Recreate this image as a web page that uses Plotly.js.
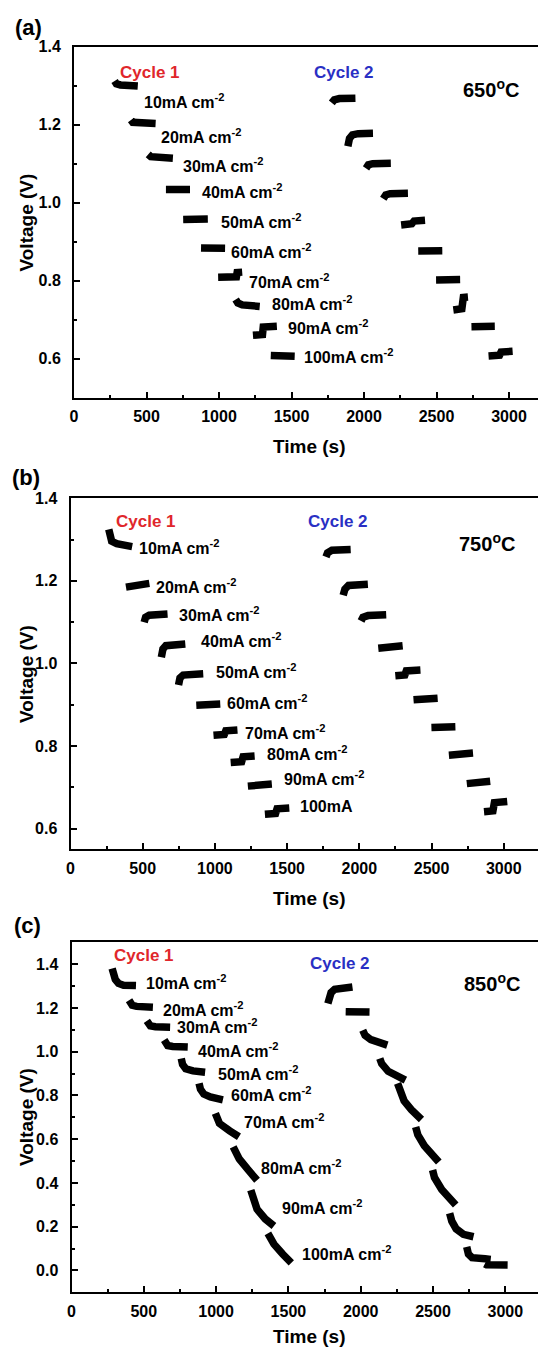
<!DOCTYPE html>
<html>
<head>
<meta charset="utf-8">
<script src="https://cdn.plot.ly/plotly-3.0.1.min.js"></script>
<style>html,body{margin:0;padding:0;background:#fff;}#chart{width:538px;height:1350px;}</style>
</head>
<body>
<div id="chart"></div>
<script>
// ---------------- DATA ----------------
// Panel (a) 650 °C
const a_cycle1_time = [280,292,320,440,null,393,405,563,null,512,530,682,null,634,800,null,753,923,null,876,1042,null,994,1120,1125,1160,null,1115,1130,1160,1281,null,1234,1300,1305,1399,null,1357,1522];
const a_cycle1_volt = [1.312,1.305,1.302,1.299,null,1.212,1.206,1.203,null,1.124,1.118,1.114,null,1.034,1.034,null,0.957,0.958,null,0.884,0.883,null,0.809,0.810,0.821,0.822,null,0.752,0.743,0.738,0.734,null,0.660,0.662,0.681,0.683,null,0.608,0.606];
const a_cycle2_time = [1778,1795,1830,1941,null,1889,1900,1920,1960,2062,null,2014,2030,2060,2185,null,2133,2150,2180,2303,null,2256,2330,2345,2421,null,2374,2540,null,2497,2663,null,2616,2675,2685,2717,null,2741,2902,null,2859,2935,2945,3025];
const a_cycle2_volt = [1.256,1.264,1.267,1.268,null,1.145,1.165,1.174,1.177,1.178,null,1.088,1.097,1.100,1.101,null,1.010,1.020,1.023,1.024,null,0.943,0.946,0.953,0.955,null,0.876,0.877,null,0.802,0.803,null,0.725,0.728,0.757,0.758,null,0.682,0.683,null,0.607,0.609,0.617,0.619];

// Panel (b) 750 °C
const b_cycle1_time = [265,272,285,320,427,null,384,546,null,510,520,545,672,null,629,640,660,795,null,748,758,780,919,null,871,1037,null,990,1065,1075,1156,null,1109,1185,1195,1275,null,1228,1394,null,1346,1420,1430,1515];
const b_cycle1_volt = [1.325,1.308,1.296,1.290,1.283,null,1.185,1.194,null,1.100,1.112,1.117,1.120,null,1.015,1.035,1.043,1.047,null,0.948,0.965,0.972,0.975,null,0.899,0.902,null,0.826,0.828,0.837,0.839,null,0.760,0.762,0.774,0.776,null,0.703,0.708,null,0.635,0.637,0.648,0.650];
const b_cycle2_time = [1769,1780,1810,1940,null,1888,1900,1925,2059,null,2012,2025,2060,2186,null,2131,2300,null,2249,2315,2325,2423,null,2375,2542,null,2499,2665,null,2620,2787,null,2744,2906,null,2863,2925,2935,3024];
const b_cycle2_volt = [1.258,1.268,1.274,1.276,null,1.165,1.180,1.189,1.192,null,1.103,1.112,1.116,1.118,null,1.037,1.043,null,0.970,0.972,0.982,0.984,null,0.912,0.916,null,0.845,0.847,null,0.778,0.783,null,0.709,0.715,null,0.641,0.643,0.663,0.666];

// Panel (c) 850 °C
const c_cycle1_time = [281,290,303,325,360,446,null,398,405,420,450,563,null,521,528,545,580,682,null,641,648,665,700,804,null,759,768,790,840,924,null,882,892,915,960,1047,null,995,1010,1023,1094,1158,null,1118,1135,1160,1215,1283,null,1240,1255,1283,1340,1400,null,1358,1372,1400,1460,1520];
const c_cycle1_volt = [1.380,1.355,1.330,1.312,1.304,1.302,null,1.235,1.222,1.212,1.207,1.203,null,1.141,1.128,1.118,1.114,1.112,null,1.053,1.038,1.028,1.024,1.021,null,0.969,0.942,0.922,0.912,0.906,null,0.855,0.828,0.806,0.793,0.780,null,0.718,0.690,0.672,0.638,0.611,null,0.565,0.535,0.510,0.465,0.412,null,0.367,0.330,0.280,0.235,0.203,null,0.169,0.145,0.120,0.075,0.035];
const c_cycle2_time = [1773,1780,1795,1820,1870,1943,null,1896,2061,null,2014,2030,2070,2130,2184,null,2132,2145,2190,2250,2309,null,2255,2270,2300,2350,2420,null,2380,2395,2440,2490,2540,null,2497,2510,2560,2610,2657,null,2615,2630,2660,2710,2780,null,2733,2745,2770,2830,2850,2860,2899,null,2858,2870,3016];
const c_cycle2_volt = [1.220,1.245,1.270,1.285,1.292,1.296,null,1.183,1.181,null,1.098,1.075,1.055,1.040,1.030,null,0.969,0.945,0.910,0.885,0.870,null,0.855,0.820,0.775,0.735,0.690,null,0.656,0.620,0.570,0.530,0.496,null,0.459,0.425,0.370,0.330,0.299,null,0.261,0.225,0.190,0.165,0.154,null,0.108,0.075,0.058,0.050,0.048,0.053,0.050,null,0.030,0.026,0.025];

// Text
const currentLabels = ['10mA cm<sup>-2</sup>','20mA cm<sup>-2</sup>','30mA cm<sup>-2</sup>','40mA cm<sup>-2</sup>','50mA cm<sup>-2</sup>','60mA cm<sup>-2</sup>','70mA cm<sup>-2</sup>','80mA cm<sup>-2</sup>','90mA cm<sup>-2</sup>','100mA cm<sup>-2</sup>'];
const currentLabelsB = ['10mA cm<sup>-2</sup>','20mA cm<sup>-2</sup>','30mA cm<sup>-2</sup>','40mA cm<sup>-2</sup>','50mA cm<sup>-2</sup>','60mA cm<sup>-2</sup>','70mA cm<sup>-2</sup>','80mA cm<sup>-2</sup>','90mA cm<sup>-2</sup>','100mA'];
const temperatures = ['650<sup>o</sup>C','750<sup>o</sup>C','850<sup>o</sup>C'];
const panelLetters = ['(a)','(b)','(c)'];
const cycleNames = ['Cycle 1','Cycle 2'];
const xTitle = 'Time (s)';
const yTitle = 'Voltage (V)';

// ---------------- STYLE / LAYOUT ----------------
const FONT = 'Arial, "Liberation Sans", Helvetica, sans-serif';
const RED = '#e0262b';
const BLUE = '#2a2fc4';

function trace(x, y, xa, ya) {
  return {x: x, y: y, xaxis: xa, yaxis: ya, type: 'scatter', mode: 'lines',
          line: {color: '#000', width: 7.5}, connectgaps: false, hoverinfo: 'skip', showlegend: false};
}
const data = [
  trace(a_cycle1_time, a_cycle1_volt, 'x', 'y'),
  trace(a_cycle2_time, a_cycle2_volt, 'x', 'y'),
  trace(b_cycle1_time, b_cycle1_volt, 'x2', 'y2'),
  trace(b_cycle2_time, b_cycle2_volt, 'x2', 'y2'),
  trace(c_cycle1_time, c_cycle1_volt, 'x3', 'y3'),
  trace(c_cycle2_time, c_cycle2_volt, 'x3', 'y3')
];

const tickFont = {family: FONT, size: 16, color: '#000', weight: 'bold'};
function xAxis(domain, range, anchor) {
  return {domain: domain, range: range, anchor: anchor, showline: true, linecolor: '#000', linewidth: 2,
    mirror: true, ticks: 'inside', ticklen: 6, tickwidth: 2, tickcolor: '#000',
    tickmode: 'linear', tick0: 0, dtick: 500,
    minor: {dtick: 250, ticks: 'inside', ticklen: 3, tickwidth: 2, tickcolor: '#000', showgrid: false},
    showgrid: false, zeroline: false, tickfont: tickFont, ticklabelstandoff: 3, fixedrange: true};
}
function yAxis(domain, range, anchor) {
  return {domain: domain, range: range, anchor: anchor, showline: true, linecolor: '#000', linewidth: 2,
    mirror: false, ticks: 'inside', ticklen: 6, tickwidth: 2, tickcolor: '#000',
    tickmode: 'linear', tick0: 0, dtick: 0.2, tickformat: '.1f',
    minor: {dtick: 0.1, ticks: 'inside', ticklen: 3, tickwidth: 2, tickcolor: '#000', showgrid: false},
    showgrid: false, zeroline: false, tickfont: tickFont, ticklabelstandoff: 8, fixedrange: true};
}

const W = 538, H = 1350;
const px = v => v / W;
const py = v => 1 - v / H;

const annotations = [];
function ann(text, x, y, xref, yref, opts) {
  annotations.push(Object.assign({text: text, x: x, y: y, xref: xref, yref: yref, showarrow: false,
    font: {family: FONT, size: 16, color: '#000', weight: 'bold'}, xanchor: 'left', yanchor: 'middle'}, opts || {}));
}

// label positions (time, voltage) for each panel
const posA = [[469,1.262],[588,1.170],[741,1.096],[872,1.030],[1001,0.952],[1072,0.876],[1191,0.800],[1352,0.743],[1463,0.681],[1570,0.607]];
const posB = [[463,1.282],[581,1.187],[736,1.120],[890,1.056],[997,0.981],[1073,0.907],[1192,0.835],[1349,0.783],[1467,0.722],[1572,0.654]];
const posC = [[500,1.319],[618,1.197],[717,1.118],[863,1.007],[1000,0.904],[1089,0.806],[1177,0.683],[1295,0.474],[1443,0.291],[1578,0.078]];
posA.forEach((p, i) => ann(currentLabels[i], p[0], p[1], 'x', 'y'));
posB.forEach((p, i) => ann(currentLabelsB[i], p[0], p[1], 'x2', 'y2'));
posC.forEach((p, i) => ann(currentLabels[i], p[0], p[1], 'x3', 'y3'));

const redFont = {family: FONT, size: 17, weight: 'bold', color: RED};
const blueFont = {family: FONT, size: 17, weight: 'bold', color: BLUE};
ann(cycleNames[0], 527, 1.334, 'x', 'y', {xanchor: 'center', font: redFont});
ann(cycleNames[1], 1859, 1.335, 'x', 'y', {xanchor: 'center', font: blueFont});
ann(cycleNames[0], 524, 1.343, 'x2', 'y2', {xanchor: 'center', font: redFont});
ann(cycleNames[1], 1853, 1.343, 'x2', 'y2', {xanchor: 'center', font: blueFont});
ann(cycleNames[0], 499, 1.441, 'x3', 'y3', {xanchor: 'center', font: redFont});
ann(cycleNames[1], 1857, 1.401, 'x3', 'y3', {xanchor: 'center', font: blueFont});

const tempFont = {family: FONT, size: 20, weight: 'bold', color: '#000'};
ann(temperatures[0], 2877, 1.294, 'x', 'y', {xanchor: 'center', font: tempFont});
ann(temperatures[1], 2886, 1.293, 'x2', 'y2', {xanchor: 'center', font: tempFont});
ann(temperatures[2], 2909, 1.315, 'x3', 'y3', {xanchor: 'center', font: tempFont});

// panel letters
const letterFont = {family: FONT, size: 22, weight: 'bold', color: '#000'};
ann(panelLetters[0], px(28), py(27.5), 'paper', 'paper', {xanchor: 'center', font: letterFont});
ann(panelLetters[1], px(26), py(477.5), 'paper', 'paper', {xanchor: 'center', font: letterFont});
ann(panelLetters[2], px(27.5), py(925), 'paper', 'paper', {xanchor: 'center', font: letterFont});

// axis titles
const titleFont = {family: FONT, size: 19, weight: 'bold', color: '#000'};
[446, 898, 1336].forEach(yy => ann(xTitle, px(309), py(yy), 'paper', 'paper', {xanchor: 'center', font: titleFont}));
[222.5, 674, 1117].forEach(yy => ann(yTitle, px(26), py(yy), 'paper', 'paper', {xanchor: 'center', textangle: -90, font: titleFont}));

const layout = {
  width: W, height: H,
  margin: {l: 0, r: 0, t: 0, b: 0},
  paper_bgcolor: '#fff', plot_bgcolor: '#fff',
  showlegend: false,
  font: {family: FONT, color: '#000'},
  xaxis:  xAxis([74 / W, 1], [0, 3200], 'y'),
  yaxis:  yAxis([py(397.7), py(46.7)], [0.5, 1.4], 'x'),
  xaxis2: xAxis([70.5 / W, 1], [0, 3237], 'y2'),
  yaxis2: yAxis([py(849.3), py(498.3)], [0.55, 1.4], 'x2'),
  xaxis3: xAxis([71.5 / W, 1], [0, 3226], 'y3'),
  yaxis3: yAxis([py(1292.3), py(942.3)], [-0.1, 1.5], 'x3'),
  annotations: annotations
};

Plotly.newPlot('chart', data, layout, {staticPlot: true, displayModeBar: false});
</script>
</body>
</html>
